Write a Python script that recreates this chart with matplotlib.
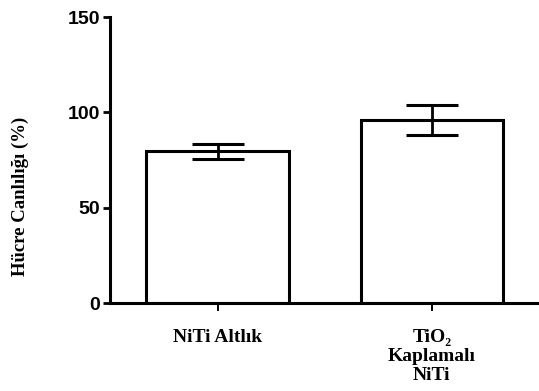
import matplotlib
matplotlib.use("Agg")
from matplotlib import pyplot as plt

groups = ["NiTi Altlık", "TiO\u2082\nKaplamalı\nNiTi"]
viability = [79.5, 96.0]
sem = [4.0, 7.7]
yticks = [0, 50, 100, 150]

fig = plt.figure(figsize=(5.39, 3.91), dpi=100)
ax = fig.add_axes([110 / 539, 1 - 303 / 391, 1 - 110 / 539, (303 - 17) / 391])

pos = list(range(len(groups)))
ax.bar(pos, viability, width=0.665, color="white", edgecolor="black", linewidth=2.2, zorder=2)
ax.errorbar(pos, viability, yerr=sem, fmt="none", ecolor="black",
            elinewidth=2.0, capsize=18.5, capthick=2.2, zorder=3)

ax.set_xlim(-0.502, 1.5)
ax.set_ylim(0, 150)
ax.set_yticks(yticks)
ax.set_xticks(pos)
ax.set_xticklabels(groups, family="Liberation Serif", fontweight="bold",
                   fontsize=14, linespacing=1.15, va="top")
for lab in ax.get_yticklabels():
    lab.set_family("Liberation Sans")
    lab.set_fontweight("bold")
    lab.set_fontsize(14)

for s in ["top", "right"]:
    ax.spines[s].set_visible(False)
for s in ["left", "bottom"]:
    ax.spines[s].set_linewidth(2.2)
ax.tick_params(axis="y", length=5, width=2.0, pad=2)
ax.tick_params(axis="x", length=6, width=1.4, pad=13)

fig.text(20 / 539, 1 - 196 / 391, "Hücre Canlılığı (%)", rotation=90,
         family="Liberation Serif", fontweight="bold", fontsize=13.5,
         ha="center", va="center")

fig.savefig("out.png", dpi=100)
